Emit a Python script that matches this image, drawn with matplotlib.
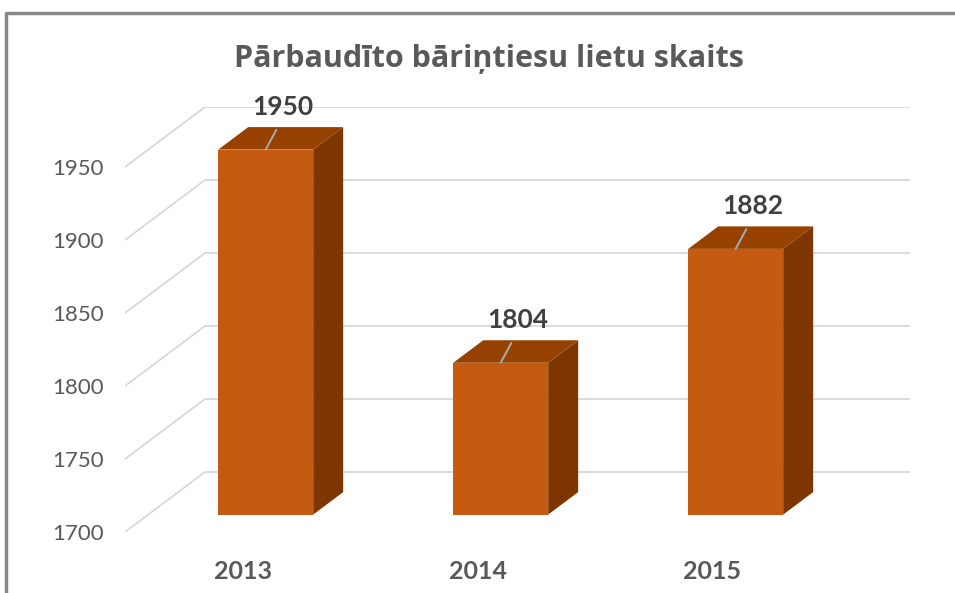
import numpy as np
import matplotlib.pyplot as plt
from matplotlib.patches import Polygon
from matplotlib.lines import Line2D

years = ['2013', '2014', '2015']
cases = [1950, 1804, 1882]
ticks = [1700, 1750, 1800, 1850, 1900, 1950]
title = 'Pārbaudīto bāriņtiesu lietu skaits'

plt.rcParams['font.family'] = ['Lato', 'DejaVu Sans']

W, H = 955, 593
fig = plt.figure(figsize=(W / 100, H / 100), dpi=100)
ax = fig.add_axes([125 / W, 61 / H, 785 / W, 425 / H])

# fake 3d: oblique offset for depth (0 = front plane, 1 = back wall)
ymin = 1700
px_per_unit = 1.46
kx = 80 / 235
ky = 60 / px_per_unit
ax.set_xlim(0, len(years) + kx)
ax.set_ylim(ymin, ymin + 425 / px_per_unit)

# gridlines: side wall diagonal + back wall
for t in ticks:
    ax.plot([0, kx, len(years) + kx], [t, t + ky, t + ky],
            color='#D9D9D9', lw=1.3, zorder=1)

d0, d1 = 0.29, 0.665
w = 0.404
xs = np.arange(len(years)) + 0.5
left = xs - w / 2 + d0 * kx
vals = np.array(cases)

ax.bar(left, vals - ymin, width=w, bottom=ymin + d0 * ky, align='edge',
       color='#C55A11', zorder=3)

dd = (d1 - d0)
for xl, v in zip(left, vals):
    xr = xl + w
    yb = ymin + d0 * ky
    yt = v + d0 * ky
    side = Polygon([(xr, yb), (xr + dd * kx, yb + dd * ky),
                    (xr + dd * kx, yt + dd * ky), (xr, yt)],
                   closed=True, facecolor='#7E3600', edgecolor='none', zorder=2)
    top = Polygon([(xl, yt), (xr, yt), (xr + dd * kx, yt + dd * ky),
                   (xl + dd * kx, yt + dd * ky)],
                  closed=True, facecolor='#974100', edgecolor='none', zorder=2)
    ax.add_patch(side)
    ax.add_patch(top)
    ax.annotate(f'{v}', xy=(xl + w / 2, yt), xytext=(12, 31),
                textcoords='offset points', ha='center', va='center',
                fontsize=19, fontweight='bold', color='#404040',
                arrowprops=dict(arrowstyle='-', color='#A6A6A6', lw=1.5,
                                relpos=(0.5, 0), shrinkA=7, shrinkB=0),
                zorder=5)

ax.set_yticks(ticks)
ax.set_xticks(xs, years)
ax.tick_params(axis='y', length=0, pad=15, labelsize=16, labelcolor='#595959')
ax.tick_params(axis='x', length=0, pad=20, labelsize=18, labelcolor='#595959')
for lab in ax.get_xticklabels():
    lab.set_fontweight('bold')
for s in ax.spines.values():
    s.set_visible(False)

fig.text(489 / W, 1 - 67 / H, title, ha='center', va='baseline',
         fontsize=22, fontweight='bold', color='#595959',
         family=['Open Sans', 'DejaVu Sans'])

fig.add_artist(Line2D([6 / W, 6 / W, 1], [0, 1 - 13 / H, 1 - 13 / H],
                      transform=fig.transFigure, color='#888888', lw=2.5))

fig.savefig('out.png', dpi=100)
